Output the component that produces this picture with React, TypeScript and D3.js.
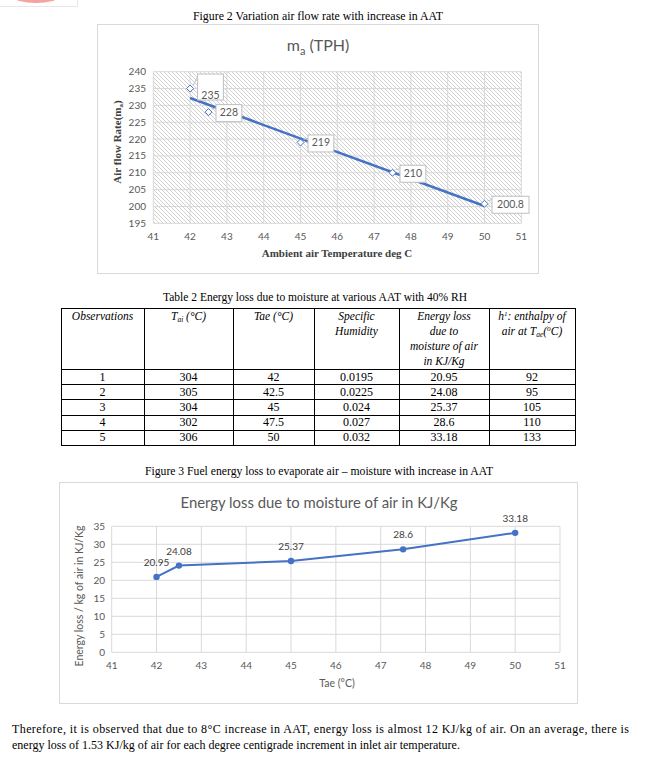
import React from 'react';
import * as d3 from 'd3';

// ---------- Data ----------
const ambientTemp = [42, 42.5, 45, 47.5, 50];
const airFlow = [235, 228, 219, 210, 200.8];
const airFlowLabels = ['235', '228', '219', '210', '200.8'];
const tempTicks = [41, 42, 43, 44, 45, 46, 47, 48, 49, 50, 51];
const airFlowTicks = [195, 200, 205, 210, 215, 220, 225, 230, 235, 240];
const energyTicks = [0, 5, 10, 15, 20, 25, 30, 35];

const observations = ['1', '2', '3', '4', '5'];
const taiValues = ['304', '305', '304', '302', '306'];
const taeValues = ['42', '42.5', '45', '47.5', '50'];
const specificHumidity = ['0.0195', '0.0225', '0.024', '0.027', '0.032'];
const energyLoss = [20.95, 24.08, 25.37, 28.6, 33.18];
const energyLossLabels = ['20.95', '24.08', '25.37', '28.6', '33.18'];
const enthalpy = ['92', '95', '105', '110', '133'];

const SERIF = '"Liberation Serif", "Times New Roman", serif';
const SANS = 'Lato, "Noto Sans", sans-serif';
const BLUE = '#4472C4';
const GRID = '#d9d9d9';
const TXT = '#595959';

export default function App() {
  // ---- Chart 1 scales
  const x1 = d3.scaleLinear().domain([41, 51]).range([153.3, 521.3]);
  const y1 = d3.scaleLinear().domain([195, 240]).range([223.3, 71.7]);
  // linear trendline
  const mx = d3.mean(ambientTemp) as number;
  const my = d3.mean(airFlow) as number;
  const sxy = d3.sum(ambientTemp.map((t, i) => (t - mx) * (airFlow[i] - my)));
  const sxx = d3.sum(ambientTemp.map((t) => (t - mx) ** 2));
  const slope = sxy / sxx;
  const icpt = my - slope * mx;
  const tMin = d3.min(ambientTemp) as number;
  const tMax = d3.max(ambientTemp) as number;
  const trend = d3.line<number>().x((t) => x1(t)).y((t) => y1(icpt + slope * t))([tMin, tMax]);

  // ---- Chart 2 scales
  const x2 = d3.scaleLinear().domain([41, 51]).range([111.7, 560]);
  const y2 = d3.scaleLinear().domain([0, 35]).range([652.3, 526.3]);
  const line2 = d3.line<number>().x((_, i) => x2(ambientTemp[i])).y((v) => y2(v))(energyLoss);

  // ---- Table geometry
  const cols = [61, 144, 233, 314, 399, 489, 575];
  const tTop = 308;
  const hBottom = 369;
  const rowH = 15.2;
  const tBottom = hBottom + rowH * observations.length;
  const colMid = (i: number) => (cols[i] + cols[i + 1]) / 2;
  const rows = observations.map((o, i) => [o, taiValues[i], taeValues[i], specificHumidity[i], energyLossLabels[i], enthalpy[i]]);

  return (
    <svg width={646} height={767} style={{ position: 'absolute', left: 0, top: 0, background: '#fff' }}>
      <defs>
        <pattern id="hatch" patternUnits="userSpaceOnUse" width={4} height={4}>
          <path d="M-1,-1 L5,5 M-1,3 L1,5 M3,-1 L5,1" stroke="#c4c4c4" strokeWidth={0.8} />
        </pattern>
      </defs>
      <rect x={0} y={0} width={646} height={767} fill="#fff" />
      {/* top-left decoration */}
      <rect x={-1} y={-1} width={78.5} height={7.5} fill="#fff" stroke="#e6e6e6" />
      <ellipse cx={36} cy={-3} rx={22} ry={6} fill="#f4a3a0" />

      {/* ===== Figure 2 ===== */}
      <text x={318} y={20} textAnchor="middle" fontFamily={SERIF} fontSize={12} textLength={250} lengthAdjust="spacingAndGlyphs">
        Figure 2 Variation air flow rate with increase in AAT
      </text>
      <rect x={97.5} y={24.5} width={441} height={249} fill="#fff" stroke={GRID} />
      <text x={318} y={51} textAnchor="middle" fontFamily={SANS} fontSize={16} fill={TXT}>
        m<tspan fontSize={11} dy={4}>a</tspan><tspan dy={-4}> (TPH)</tspan>
      </text>
      <rect x={x1(41)} y={y1(240)} width={x1(51) - x1(41)} height={y1(195) - y1(240)} fill="url(#hatch)" />
      {tempTicks.map((t) => (
        <line key={'v1' + t} x1={x1(t)} x2={x1(t)} y1={y1(240)} y2={y1(195)} stroke={GRID} strokeWidth={1} />
      ))}
      {airFlowTicks.map((v) => (
        <line key={'h1' + v} x1={x1(41)} x2={x1(51)} y1={y1(v)} y2={y1(v)} stroke={GRID} strokeWidth={1} />
      ))}
      {airFlowTicks.map((v) => (
        <text key={'yl1' + v} x={146} y={y1(v) + 3.5} textAnchor="end" fontFamily={SANS} fontSize={10} fill={TXT}>{v}</text>
      ))}
      {tempTicks.map((t) => (
        <text key={'xl1' + t} x={x1(t)} y={240} textAnchor="middle" fontFamily={SANS} fontSize={10} fill={TXT}>{t}</text>
      ))}
      <text transform="translate(121,142) rotate(-90)" textAnchor="middle" fontFamily={SERIF} fontWeight="bold" fontSize={11} fill="#404040">
        Air flow Rate(m<tspan fontSize={7} dy={2}>a</tspan><tspan dy={-2}>)</tspan>
      </text>
      <text x={337} y={257} textAnchor="middle" fontFamily={SERIF} fontWeight="bold" fontSize={11} fill="#404040">
        Ambient air Temperature deg C
      </text>
      <path d={trend || ''} fill="none" stroke={BLUE} strokeWidth={2.5} />
      {ambientTemp.map((t, i) => {
        const px = x1(t);
        const py = y1(airFlow[i]);
        const lbl = airFlowLabels[i];
        const w = lbl.length * 5.6 + 9;
        const first = i === 0;
        const bx = px + 7;
        const by = first ? py - 15 : py - 8;
        const bh = first ? 26 : 17;
        return (
          <g key={'p1' + i}>
            <path d={`M${px - 3.5},${py} L${px},${py - 3.5} L${px + 3.5},${py} L${px},${py + 3.5} Z`} fill="#fff" stroke={BLUE} strokeWidth={1} />
            <line x1={px + 3} y1={py - 3} x2={bx} y2={by + 4} stroke="#bfbfbf" strokeWidth={1} />
            <rect x={bx + 0.5} y={by + 0.5} width={w} height={bh} fill="#fff" stroke="#bfbfbf" />
            <text x={bx + 0.5 + w / 2} y={first ? py + 10 : py + 4} textAnchor="middle" fontFamily={SANS} fontSize={10.5} fill={TXT}>{lbl}</text>
          </g>
        );
      })}

      {/* ===== Table 2 ===== */}
      <text x={315} y={301} textAnchor="middle" fontFamily={SERIF} fontSize={12} textLength={304} lengthAdjust="spacingAndGlyphs">
        Table 2  Energy loss due to moisture at various AAT with 40% RH
      </text>
      <g stroke="#000" strokeWidth={1}>
        <rect x={cols[0] + 0.5} y={tTop + 0.5} width={cols[6] - cols[0]} height={tBottom - tTop} fill="none" />
        {cols.slice(1, 6).map((c) => (
          <line key={'tc' + c} x1={c + 0.5} x2={c + 0.5} y1={tTop} y2={tBottom} />
        ))}
        {[hBottom, ...observations.slice(1).map((_, i) => hBottom + rowH * (i + 1))].map((yy, i) => (
          <line key={'tr' + i} x1={cols[0]} x2={cols[6]} y1={Math.round(yy) + 0.5} y2={Math.round(yy) + 0.5} />
        ))}
      </g>
      <g fontFamily={SERIF} fontStyle="italic" fontSize={11.5} textAnchor="middle" fill="#000">
        <text x={colMid(0)} y={320}>Observations</text>
        <text x={colMid(1)} y={320}>T<tspan fontSize={7.5} dy={2}>ai</tspan><tspan dy={-2}> (°C)</tspan></text>
        <text x={colMid(2)} y={320}>Tae (°C)</text>
        <text x={colMid(3)} y={320}>Specific</text>
        <text x={colMid(3)} y={335}>Humidity</text>
        <text x={colMid(4)} y={320}>Energy loss</text>
        <text x={colMid(4)} y={335}>due to</text>
        <text x={colMid(4)} y={350}>moisture of air</text>
        <text x={colMid(4)} y={365}>in KJ/Kg</text>
        <text x={colMid(5)} y={320}>h<tspan fontSize={7} dy={-4}>1</tspan><tspan dy={4}>: enthalpy of</tspan></text>
        <text x={colMid(5)} y={335}>air at T<tspan fontSize={7.5} dy={2}>ae</tspan><tspan dy={-2}>(</tspan><tspan fontSize={7.5} dy={-4}>o</tspan><tspan dy={4}>C)</tspan></text>
      </g>
      <g fontFamily={SERIF} fontSize={12} textAnchor="middle" fill="#000">
        {rows.map((r, ri) => r.map((cell, ci) => (
          <text key={'cell' + ri + '-' + ci} x={colMid(ci)} y={hBottom + rowH * ri + 11.5}>{cell}</text>
        )))}
      </g>

      {/* ===== Figure 3 ===== */}
      <text x={319} y={475} textAnchor="middle" fontFamily={SERIF} fontSize={12} textLength={348} lengthAdjust="spacingAndGlyphs">
        Figure 3 Fuel energy loss to evaporate air – moisture with increase in AAT
      </text>
      <rect x={59.5} y={482.5} width={518} height={221} fill="#fff" stroke={GRID} />
      <text x={319} y={508} textAnchor="middle" fontFamily={SANS} fontSize={15} fill={TXT} textLength={277} lengthAdjust="spacingAndGlyphs">
        Energy loss due to moisture of air in KJ/Kg
      </text>
      {tempTicks.map((t) => (
        <line key={'v2' + t} x1={x2(t)} x2={x2(t)} y1={y2(35)} y2={y2(0)} stroke={GRID} strokeWidth={1} />
      ))}
      {energyTicks.map((v) => (
        <line key={'h2' + v} x1={x2(41)} x2={x2(51)} y1={y2(v)} y2={y2(v)} stroke={GRID} strokeWidth={1} />
      ))}
      {energyTicks.map((v) => (
        <text key={'yl2' + v} x={105} y={y2(v) + 3.5} textAnchor="end" fontFamily={SANS} fontSize={10} fill={TXT}>{v}</text>
      ))}
      {tempTicks.map((t) => (
        <text key={'xl2' + t} x={x2(t)} y={669} textAnchor="middle" fontFamily={SANS} fontSize={10} fill={TXT}>{t}</text>
      ))}
      <text transform="translate(83,596) rotate(-90)" textAnchor="middle" fontFamily={SANS} fontSize={10.5} fill={TXT}>
        Energy loss / kg of air in KJ/Kg
      </text>
      <text x={337} y={687} textAnchor="middle" fontFamily={SANS} fontSize={10.5} fill={TXT}>Tae (°C)</text>
      <path d={line2 || ''} fill="none" stroke={BLUE} strokeWidth={2} />
      {energyLoss.map((v, i) => (
        <g key={'p2' + i}>
          <circle cx={x2(ambientTemp[i])} cy={y2(v)} r={3.2} fill={BLUE} />
          <text x={x2(ambientTemp[i])} y={y2(v) - 11} textAnchor="middle" fontFamily={SANS} fontSize={10} fill="#404040">{energyLossLabels[i]}</text>
        </g>
      ))}

      {/* ===== Paragraph ===== */}
      <text x={12} y={733} fontFamily={SERIF} fontSize={12} textLength={617} lengthAdjust="spacing">
        Therefore, it is observed that due to 8°C increase in AAT, energy loss is almost 12 KJ/kg of air. On an average, there is
      </text>
      <text x={12} y={749} fontFamily={SERIF} fontSize={12}>
        energy loss of 1.53 KJ/kg of air for each degree centigrade increment in inlet air temperature.
      </text>
    </svg>
  );
}
